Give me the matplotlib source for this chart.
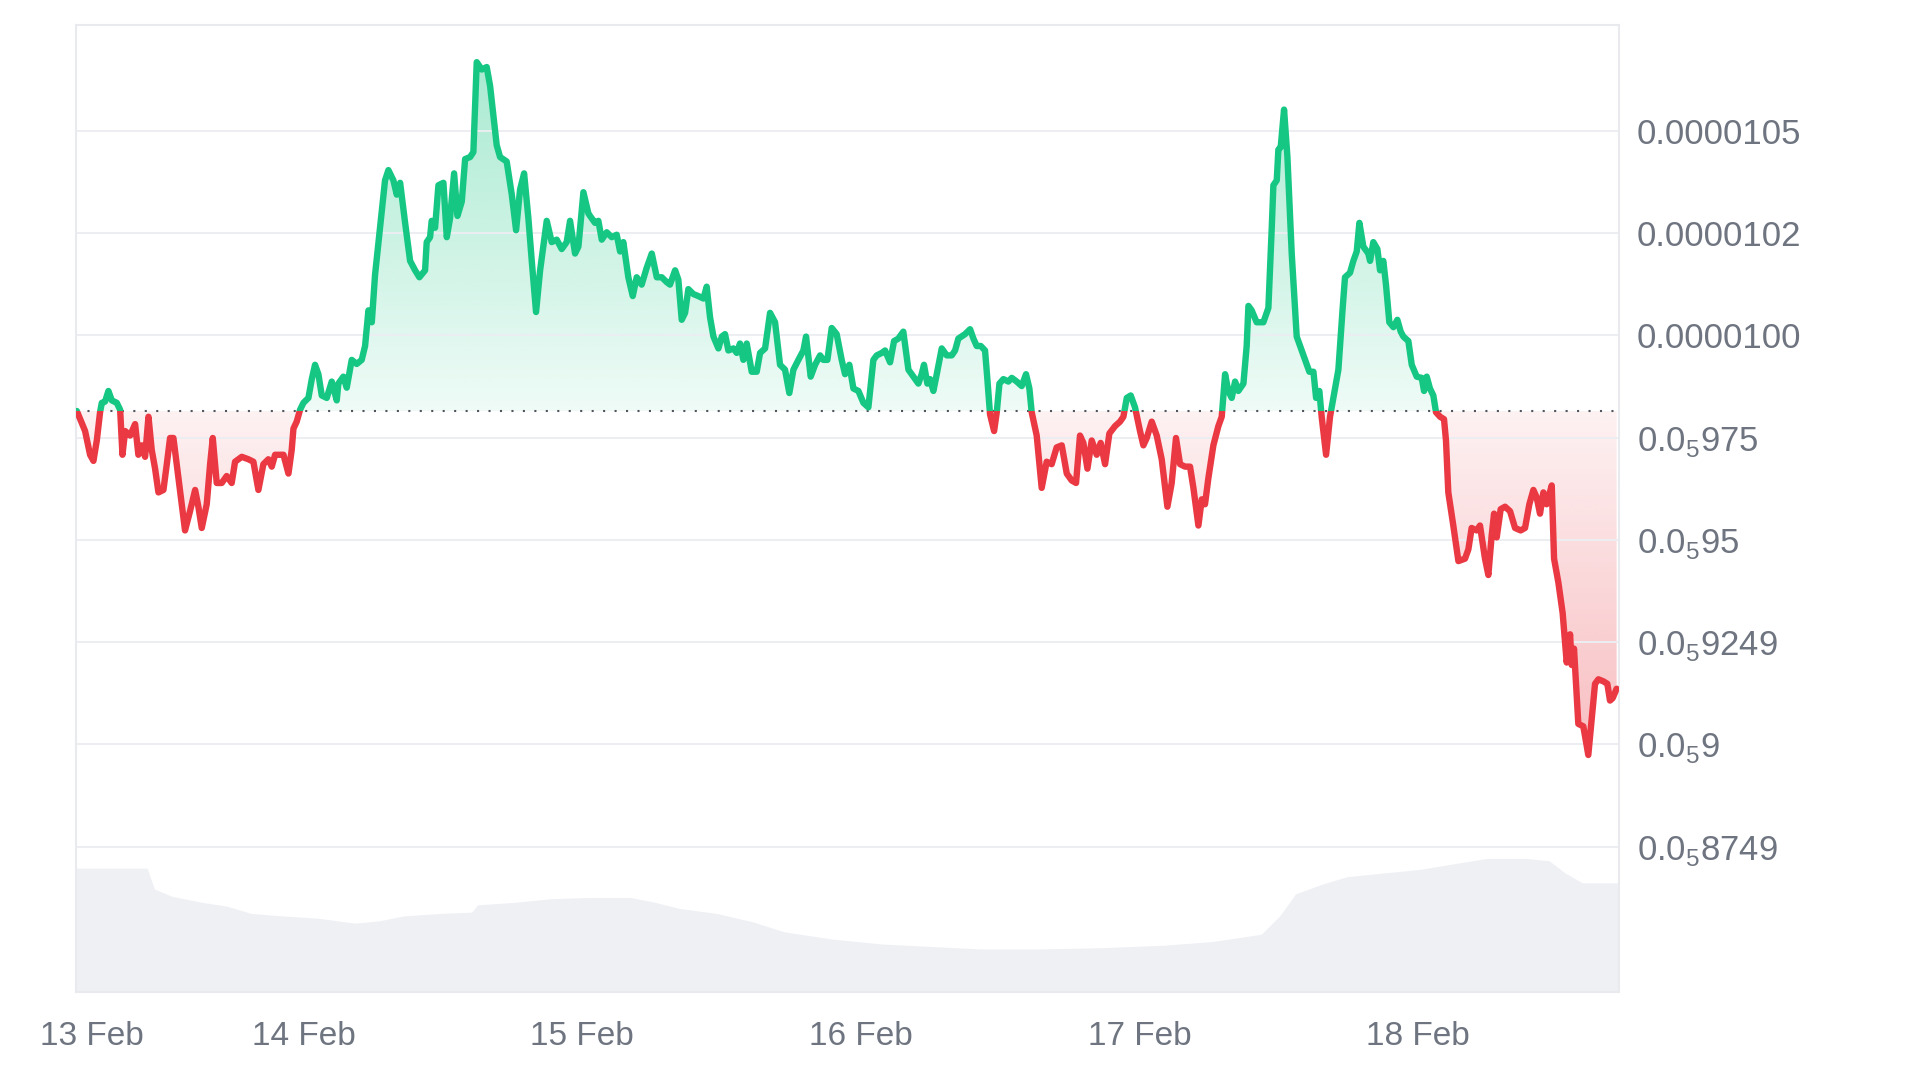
import numpy as np
import matplotlib.pyplot as plt
from matplotlib.colors import to_rgb
from matplotlib.patches import Rectangle

plt.rcParams['font.family'] = ['Liberation Sans', 'DejaVu Sans']
plt.rcParams['mathtext.fontset'] = 'custom'
plt.rcParams['mathtext.rm'] = 'Liberation Sans'

# price: hours since 13 Feb 00:00, price in 1e-6 USD
hours = [
    4.45, 5.16, 5.59, 5.88, 6.17, 6.45, 6.60, 6.88, 7.17, 7.46, 7.89, 8.18, 8.38, 8.61,
    9.04, 9.47, 9.75, 10.04, 10.33, 10.62, 10.90, 11.19, 11.48, 11.91, 12.20, 12.48,
    12.77, 13.20, 13.77, 14.20, 14.64, 14.92, 15.21, 15.64, 15.93, 16.16, 16.50, 16.93,
    17.36, 17.79, 18.08, 18.66, 19.23, 19.66, 20.09, 20.52, 20.95, 21.24, 21.53, 22.25,
    22.68, 22.96, 23.11, 23.39, 23.68, 23.97, 24.40, 24.69, 24.97, 25.26, 25.55, 25.98,
    26.41, 26.84,
    26.98, 27.41, 27.70, 28.13, 28.56, 28.99, 29.28, 29.57, 29.86, 30.14, 30.57, 31.00,
    31.29, 31.72, 32.01, 32.30, 32.73, 33.16, 33.59, 33.96, 34.45, 34.59, 34.88, 35.02,
    35.31, 35.60, 36.03, 36.32, 36.60, 36.95, 37.24, 37.61, 37.90, 38.33, 38.61, 38.90,
    39.33, 39.76, 40.05, 40.62, 40.91, 41.48, 41.92, 42.29, 42.63, 42.98, 43.35, 43.64,
    44.01, 44.36, 44.93, 45.36, 45.79, 46.22, 46.65, 46.94, 47.37, 47.66, 48.09, 48.52,
    48.66, 49.09, 49.38, 49.67, 50.10, 50.53, 50.96, 51.25, 51.53, 51.96, 52.34, 52.68,
    53.11, 53.54, 53.98, 54.41, 54.84, 55.27, 55.55, 55.99, 56.27, 56.56, 56.85, 57.13,
    57.56, 57.99, 58.43, 58.71, 59.00, 59.29, 59.72, 60.01, 60.29, 60.58, 61.01, 61.30,
    61.58, 61.87, 62.16, 62.59, 63.02, 63.31, 63.74, 64.17, 64.60, 65.03, 65.46, 65.83,
    66.18, 66.61, 67.04, 67.27, 67.67, 68.05, 68.48, 68.76, 69.11, 69.48, 69.91, 70.34,
    70.63, 71.00,
    71.35, 71.78, 72.21, 72.64, 73.07, 73.36, 73.79, 74.08, 74.51, 74.85, 75.22, 75.65,
    76.09, 76.52, 76.95, 77.23, 77.43, 77.72, 77.95, 78.24, 78.53, 78.96, 79.39, 79.82,
    80.11, 80.39, 80.97, 81.40, 81.69, 81.97, 82.32, 82.69, 82.89, 83.12, 83.47, 83.70,
    83.93, 84.27, 84.70, 84.99, 85.42, 85.85, 86.22, 86.51, 86.71, 87.14, 87.57, 88.00,
    88.43, 88.86, 89.30, 89.73, 90.16, 90.53, 90.87, 91.16, 91.51, 91.88, 92.31, 92.65,
    93.03, 93.40,
    93.89, 94.32, 94.61, 94.90, 95.24, 95.61, 96.04, 96.33, 96.62, 97.05, 97.48, 97.91,
    98.40, 98.77, 99.14, 99.49, 99.92, 100.35, 100.64, 101.07, 101.36, 101.64, 101.93,
    102.36, 102.79, 103.08, 103.37, 103.65, 103.94, 104.23, 104.51, 104.95, 105.23,
    105.38, 105.66, 106.09, 106.67, 107.10, 107.39, 107.53, 107.82, 107.96, 108.16,
    108.45, 108.74, 109.11, 109.54, 109.97, 110.26, 110.63, 110.98, 111.21, 111.49,
    111.69, 112.07, 112.41, 112.70, 113.13, 113.50, 113.70, 114.13, 114.42, 114.71,
    114.94, 115.28, 115.71,
    115.86, 116.14, 116.49, 116.72, 117.00, 117.23, 117.52, 117.87, 118.21, 118.50,
    118.73, 119.16, 119.45, 119.88, 120.31, 120.51, 120.74, 121.02, 121.31, 121.54,
    121.89, 122.23, 122.40, 122.60, 123.03, 123.47, 124.04, 124.33, 124.61, 125.04,
    125.33, 125.76, 126.05, 126.34, 126.54, 126.77, 127.11, 127.49, 127.92, 128.35,
    128.83, 129.21, 129.58, 129.93, 130.21, 130.50, 130.79, 131.07, 131.51, 131.71,
    132.08, 132.45, 132.80, 133.09, 133.23, 133.43, 133.80, 134.23, 134.66, 134.95,
    135.24, 135.53, 135.96, 136.30, 136.53, 136.76, 137.10,
]
price_e6 = [
    9.815, 9.766, 9.708, 9.693, 9.743, 9.812, 9.835, 9.838, 9.864, 9.841, 9.835, 9.818,
    9.708, 9.766, 9.755, 9.783, 9.708, 9.731, 9.703, 9.801, 9.720, 9.674, 9.616, 9.622,
    9.685, 9.749, 9.749, 9.651, 9.523, 9.570, 9.622, 9.581, 9.529, 9.587, 9.685, 9.749,
    9.639, 9.639, 9.656, 9.639, 9.691, 9.703, 9.697, 9.691, 9.622, 9.685, 9.697, 9.679,
    9.708, 9.708, 9.662, 9.720, 9.772, 9.789, 9.818, 9.835, 9.847, 9.893, 9.928, 9.905,
    9.853, 9.847, 9.887, 9.841,
    9.882, 9.899, 9.872, 9.940, 9.930, 9.940, 9.974, 10.061, 10.032, 10.148, 10.263,
    10.379, 10.404, 10.379, 10.344, 10.373, 10.275, 10.182, 10.159, 10.142, 10.159,
    10.228, 10.240, 10.280, 10.263, 10.367, 10.373, 10.240, 10.286, 10.396, 10.292,
    10.327, 10.431, 10.436, 10.448, 10.668, 10.650, 10.656, 10.610, 10.465, 10.436,
    10.425, 10.344, 10.257, 10.356, 10.396, 10.286, 10.182, 10.057, 10.159, 10.280,
    10.228, 10.234, 10.211, 10.228, 10.280, 10.200, 10.217, 10.350, 10.298,
    10.292, 10.275, 10.280, 10.234, 10.252, 10.240, 10.246, 10.205, 10.228, 10.142,
    10.096, 10.142, 10.124, 10.165, 10.200, 10.142, 10.142, 10.130, 10.124, 10.159,
    10.136, 10.038, 10.055, 10.113, 10.101, 10.096, 10.090, 10.119, 10.044, 9.997,
    9.968, 9.997, 10.003, 9.963, 9.968, 9.957, 9.980, 9.940, 9.980, 9.911, 9.911,
    9.957, 9.968, 10.055, 10.032, 9.928, 9.916, 9.859, 9.916, 9.940, 9.963, 9.997,
    9.899, 9.928, 9.951, 9.940, 9.940, 10.018, 10.003, 9.940, 9.905, 9.928,
    9.870, 9.864, 9.835, 9.824, 9.940, 9.951, 9.957, 9.963, 9.934, 9.986, 9.992,
    10.009, 9.916, 9.899, 9.882, 9.905, 9.928, 9.882, 9.893, 9.864, 9.905, 9.968,
    9.951, 9.951, 9.963, 9.992, 10.003, 10.015, 9.992, 9.974, 9.974, 9.963, 9.893,
    9.807, 9.766, 9.812, 9.882, 9.893, 9.887, 9.896, 9.887, 9.876, 9.905, 9.870,
    9.812, 9.755, 9.627, 9.691, 9.685, 9.726, 9.731, 9.662, 9.645, 9.639, 9.755,
    9.737, 9.674, 9.743, 9.708, 9.737, 9.685, 9.760,
    9.778, 9.789, 9.801, 9.847, 9.853, 9.824, 9.766, 9.731, 9.749, 9.789, 9.755,
    9.697, 9.581, 9.639, 9.749, 9.685, 9.679, 9.679, 9.627, 9.535, 9.599, 9.587,
    9.651, 9.731, 9.778, 9.801, 9.905, 9.864, 9.847, 9.887, 9.864, 9.882, 9.974,
    10.072, 10.061, 10.032, 10.032, 10.067, 10.263, 10.367, 10.379, 10.454, 10.460,
    10.552, 10.436, 10.200, 9.997, 9.963, 9.940, 9.911, 9.911, 9.847, 9.864, 9.801,
    9.708, 9.801, 9.847, 9.916, 10.067, 10.142, 10.153, 10.182, 10.205, 10.275,
    10.217, 10.200,
    10.182, 10.228, 10.211, 10.159, 10.182, 10.124, 10.032, 10.020, 10.038, 10.009,
    9.997, 9.986, 9.928, 9.899, 9.896, 9.864, 9.899, 9.870, 9.853, 9.812, 9.801,
    9.795, 9.743, 9.616, 9.535, 9.448, 9.454, 9.477, 9.529, 9.523, 9.535, 9.454,
    9.414, 9.512, 9.564, 9.506, 9.575, 9.581, 9.570, 9.529, 9.523, 9.529, 9.587,
    9.622, 9.604, 9.564, 9.616, 9.587, 9.633, 9.454, 9.396, 9.321, 9.200, 9.269,
    9.194, 9.234, 9.050, 9.044, 8.974, 9.061, 9.148, 9.159, 9.154, 9.148, 9.107,
    9.113, 9.136,
]

# trading volume (relative units), same time base
vol_hours = [4.38, 10.50, 11.13, 12.61, 15.24, 17.35, 19.46, 22.10, 25.27, 28.43, 30.54,
             32.65, 35.82, 38.45, 38.98, 42.15, 45.31, 48.47, 52.17, 54.28, 56.39, 59.55,
             62.72, 65.35, 69.57, 73.79, 78.01, 82.23, 87.51, 92.78, 98.06, 102.28,
             106.50, 108.08, 109.45, 111.77, 113.88, 117.05, 120.21, 123.38, 126.01,
             129.18, 131.29, 132.66, 134.14, 137.30]
volume = [101, 101, 84, 78, 73, 70, 64, 62, 60, 56, 58, 62, 64, 65, 71, 73, 76, 77, 77,
          73, 68, 64, 57, 49, 43, 39, 37, 35, 35, 36, 38, 41, 47, 62, 80, 88, 94, 97,
          100, 105, 109, 109, 107, 97, 89, 89]

day_ticks = [5.75, 24, 48, 72, 96, 120]
day_labels = ["13 Feb", "14 Feb", "15 Feb", "16 Feb", "17 Feb", "18 Feb"]

price_ticks = [1.05e-5, 1.025e-5, 1.0e-5, 0.975e-5, 0.95e-5, 0.925e-5, 0.9e-5, 0.875e-5]
price_labels = ["0.0000105", "0.0000102", "0.0000100",
                r"0.0$_{\mathregular{5}}$975", r"0.0$_{\mathregular{5}}$95",
                r"0.0$_{\mathregular{5}}$9249", r"0.0$_{\mathregular{5}}$9",
                r"0.0$_{\mathregular{5}}$8749"]

GREEN = '#16c784'
RED = '#ea3943'
TEXT = '#6f7580'

x = np.array(hours)
price = np.array(price_e6) * 1e-6
base = price[0]
x0, x1 = 4.38, 137.3
y0, y1 = 8.395e-6, 10.76e-6

fig = plt.figure(figsize=(19.2, 10.8), dpi=100)
rect = [0.0396, 0.0817, 0.8036, 0.8956]

# volume in the background
ax_v = fig.add_axes(rect, zorder=0)
ax_v.fill_between(vol_hours, volume, 0, color='#eef0f4', lw=0)
ax_v.set_xlim(x0, x1)
ax_v.set_ylim(0, 790)
ax_v.axis('off')

ax = fig.add_axes(rect, zorder=1)
ax.patch.set_alpha(0)

# gradient area between price and the opening price
poly = ax.fill_between(x, price, base, facecolor='none', lw=0)
ny = 500
yy = np.linspace(y0, y1, ny)
img = np.zeros((ny, 2, 4))
up = yy >= base
img[up, :, :3] = to_rgb(GREEN)
img[~up, :, :3] = to_rgb(RED)
img[up, :, 3] = (0.07 + 0.30 * (yy[up] - base) / (price.max() - base))[:, None]
img[~up, :, 3] = (0.07 + 0.26 * (base - yy[~up]) / (base - price.min()))[:, None]
img[:, :, 3] = np.clip(img[:, :, 3], 0, 0.4)
im = ax.imshow(img, extent=(x0, x1, y0, y1), origin='lower', aspect='auto',
               interpolation='bilinear', zorder=0.3)
im.set_clip_path(poly.get_paths()[0], transform=ax.transData)

# price line, green above the opening price and red below it
ln_up, = ax.plot(x, price, color=GREEN, lw=4.6, solid_joinstyle='round',
                 solid_capstyle='round', zorder=4)
ln_up.set_clip_path(Rectangle((x0, base), x1 - x0, y1 - base, transform=ax.transData))
ln_dn, = ax.plot(x, price, color=RED, lw=4.6, solid_joinstyle='round',
                 solid_capstyle='round', zorder=4)
ln_dn.set_clip_path(Rectangle((x0, y0), x1 - x0, base - y0, transform=ax.transData))

ax.axhline(base, color='#50555e', lw=1.5, linestyle=(0, (1, 4.5)), zorder=3)

ax.set_xlim(x0, x1)
ax.set_ylim(y0, y1)
ax.set_xticks(day_ticks)
ax.set_xticklabels(day_labels, fontsize=24, color=TEXT)
ax.set_yticks(price_ticks)
ax.set_yticklabels(price_labels, fontsize=25, color=TEXT)
ax.yaxis.tick_right()
ax.tick_params(axis='x', length=0, pad=21)
ax.tick_params(axis='y', length=0, pad=13)
ax.grid(axis='y', color='#eceef1', lw=1.4)
ax.set_axisbelow(True)
for s in ax.spines.values():
    s.set_color('#e8eaed')
    s.set_linewidth(1.5)

fig.savefig('out.png', dpi=100, facecolor='white')
